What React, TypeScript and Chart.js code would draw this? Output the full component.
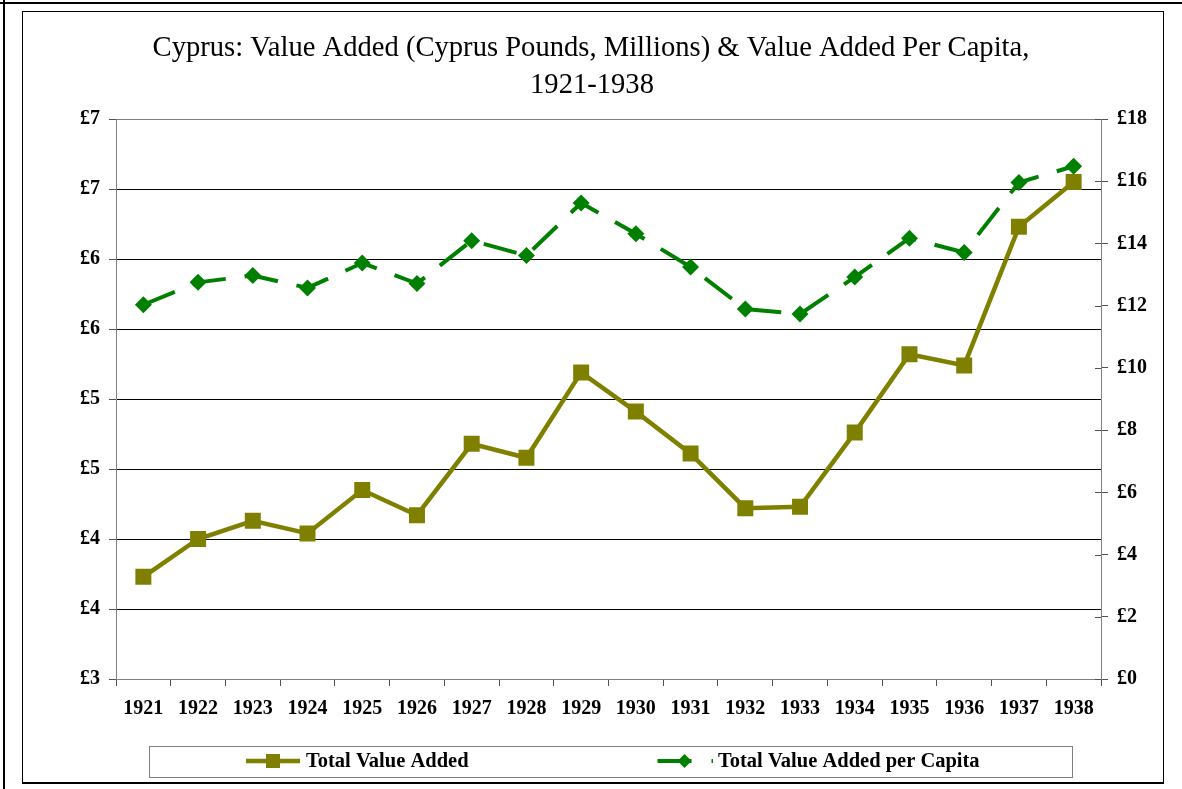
import React, { useEffect, useRef } from 'react';
import { Chart, registerables } from 'chart.js';

Chart.register(...registerables);

const years = ['1921', '1922', '1923', '1924', '1925', '1926', '1927', '1928', '1929', '1930', '1931', '1932', '1933', '1934', '1935', '1936', '1937', '1938'];
const totalValueAdded = [3.73, 4.0, 4.13, 4.04, 4.35, 4.17, 4.68, 4.58, 5.19, 4.91, 4.61, 4.22, 4.23, 4.76, 5.32, 5.24, 6.23, 6.55];
const valueAddedPerCapita = [12.03, 12.75, 12.97, 12.57, 13.37, 12.71, 14.09, 13.61, 15.3, 14.31, 13.24, 11.89, 11.73, 12.92, 14.17, 13.71, 15.96, 16.48];
const leftAxisRange = [3, 7, 0.5];
const rightAxisRange = [0, 18, 2];
const titleLines = ['Cyprus: Value Added (Cyprus Pounds, Millions) & Value Added Per Capita,', '1921-1938'];
const seriesNames = ['Total Value Added', 'Total Value Added per Capita'];

const OLIVE = '#808000';
const GREEN = '#008000';
const SERIF = '"Liberation Serif", "Times New Roman", serif';

const titleAndLegend = {
  id: 'titleAndLegend',
  afterDraw(chart: any) {
    const ctx = chart.ctx as CanvasRenderingContext2D;
    ctx.save();
    // title
    ctx.fillStyle = '#000';
    ctx.font = `28.6px ${SERIF}`;
    ctx.textAlign = 'center';
    ctx.textBaseline = 'alphabetic';
    ctx.fillText(titleLines[0], 568, 44);
    ctx.fillText(titleLines[1], 569, 81);

    // inner tick marks on the right axis (cross style)
    const y1 = chart.scales.y1;
    const right = chart.chartArea.right;
    ctx.strokeStyle = '#505050';
    ctx.lineWidth = 1;
    y1.ticks.forEach((t: any) => {
      const py = Math.round(y1.getPixelForValue(t.value)) + 0.5;
      ctx.beginPath();
      ctx.moveTo(right - 6, py);
      ctx.lineTo(right, py);
      ctx.stroke();
    });

    // legend box
    ctx.strokeStyle = '#808080';
    ctx.lineWidth = 1;
    ctx.strokeRect(126.5, 734.5, 923, 31);

    const ly = 749;
    // item 1
    ctx.strokeStyle = OLIVE;
    ctx.lineWidth = 4.5;
    ctx.setLineDash([]);
    ctx.beginPath();
    ctx.moveTo(223, ly);
    ctx.lineTo(277, ly);
    ctx.stroke();
    ctx.fillStyle = OLIVE;
    ctx.fillRect(250 - 7, ly - 7, 14, 14);
    ctx.fillStyle = '#000';
    ctx.font = `bold 20.5px ${SERIF}`;
    ctx.textAlign = 'left';
    ctx.textBaseline = 'middle';
    ctx.fillText(seriesNames[0], 283, ly + 1);

    // item 2
    ctx.strokeStyle = GREEN;
    ctx.lineWidth = 4;
    ctx.setLineDash([34, 20]);
    ctx.beginPath();
    ctx.moveTo(634.5, ly);
    ctx.lineTo(690, ly);
    ctx.stroke();
    ctx.setLineDash([]);
    ctx.fillStyle = GREEN;
    ctx.beginPath();
    ctx.moveTo(661.5, ly - 7);
    ctx.lineTo(668.5, ly);
    ctx.lineTo(661.5, ly + 7);
    ctx.lineTo(654.5, ly);
    ctx.closePath();
    ctx.fill();
    ctx.fillStyle = '#000';
    ctx.fillText(seriesNames[1], 695, ly + 1);
    ctx.restore();
  },
};

function App() {
  const ref = useRef<HTMLCanvasElement | null>(null);

  useEffect(() => {
    if (!ref.current) return;
    const chart = new Chart(ref.current, {
      type: 'line',
      data: {
        labels: years,
        datasets: [
          {
            label: seriesNames[0],
            data: totalValueAdded,
            yAxisID: 'y',
            borderColor: OLIVE,
            backgroundColor: OLIVE,
            borderWidth: 4.5,
            pointStyle: 'rect',
            pointRadius: 11.3,
            pointBorderWidth: 0,
            pointBackgroundColor: OLIVE,
            tension: 0,
            fill: false,
          },
          {
            label: seriesNames[1],
            data: valueAddedPerCapita,
            yAxisID: 'y1',
            borderColor: GREEN,
            backgroundColor: GREEN,
            borderWidth: 4,
            borderDash: [34, 19],
            pointStyle: 'rectRot',
            pointRadius: 8.5,
            pointBorderWidth: 0,
            pointBackgroundColor: GREEN,
            tension: 0,
            fill: false,
          },
        ],
      },
      options: {
        responsive: false,
        animation: false,
        layout: { padding: { top: 107, left: 0, right: 0, bottom: 0 } },
        plugins: {
          legend: { display: false },
          title: { display: false },
          tooltip: { enabled: false },
        },
        scales: {
          x: {
            type: 'category',
            offset: true,
            afterFit: (s: any) => { s.height = 103; },
            grid: {
              display: true,
              offset: true,
              drawOnChartArea: false,
              drawTicks: true,
              tickLength: 7,
              color: '#505050',
            },
            border: { display: true, color: '#808080', width: 1 },
            ticks: {
              color: '#000',
              font: { family: SERIF, size: 20, weight: 'bold' },
              padding: 11,
              maxRotation: 0,
              autoSkip: false,
            },
          },
          y: {
            type: 'linear',
            position: 'left',
            min: leftAxisRange[0],
            max: leftAxisRange[1],
            afterFit: (s: any) => { s.width = 93; },
            grid: {
              color: (c: any) => (c.tick && c.tick.value === leftAxisRange[1] ? '#808080' : '#000000'),
              tickColor: '#505050',
              tickLength: 7,
              lineWidth: 1,
            },
            border: { display: true, color: '#808080', width: 1 },
            ticks: {
              stepSize: leftAxisRange[2],
              color: '#000',
              font: { family: SERIF, size: 20, weight: 'bold' },
              padding: 9,
              callback: (v: any) => '£' + Math.round(Number(v)),
            },
          },
          y1: {
            type: 'linear',
            position: 'right',
            min: rightAxisRange[0],
            max: rightAxisRange[1],
            afterFit: (s: any) => { s.width = 62; },
            grid: {
              drawOnChartArea: false,
              tickColor: '#505050',
              tickLength: 7,
            },
            border: { display: true, color: '#808080', width: 1 },
            ticks: {
              stepSize: rightAxisRange[2],
              color: '#000',
              font: { family: SERIF, size: 20, weight: 'bold' },
              padding: 9,
              callback: (v: any) => '£' + Number(v),
            },
          },
        },
      },
      plugins: [titleAndLegend],
    } as any);
    return () => chart.destroy();
  }, []);

  return (
    <div style={{ position: 'fixed', left: 0, top: 0, width: 1182, height: 789, background: '#fff', overflow: 'hidden' }}>
      <div style={{ position: 'absolute', left: 0, top: 2, width: 1182, height: 2, background: '#000' }} />
      <div style={{ position: 'absolute', left: 3, top: 0, width: 2, height: 789, background: '#000' }} />
      <div
        style={{
          position: 'absolute',
          left: 22,
          top: 11,
          width: 1140,
          height: 770,
          borderLeft: '1px solid #000',
          borderTop: '1px solid #000',
          borderRight: '1px solid #000',
          borderBottom: '2px solid #000',
        }}
      />
      <canvas ref={ref} width={1140} height={770} style={{ position: 'absolute', left: 23, top: 12, width: 1140, height: 770 }} />
    </div>
  );
}

export default App;
